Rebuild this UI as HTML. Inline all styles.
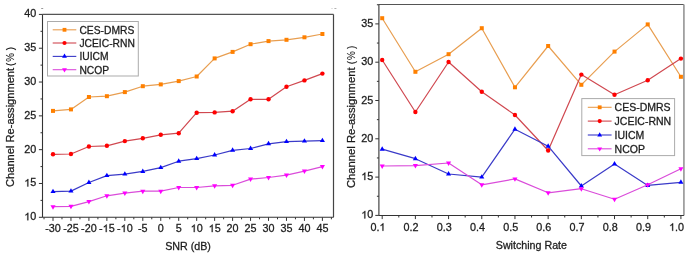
<!DOCTYPE html>
<html><head><meta charset="utf-8"><title>Channel Re-assignment charts</title>
<style>
html,body{margin:0;padding:0;background:#fff;}
body{width:685px;height:259px;overflow:hidden;}
svg{display:block;font-family:"Liberation Sans", sans-serif;will-change:transform;}
text{stroke:#222;stroke-width:0.28px;}
</style></head>
<body>
<svg width="685" height="259" viewBox="0 0 685 259">
<rect width="685" height="259" fill="#fff"/>
<line x1="38.90" y1="217.30" x2="42.50" y2="217.30" stroke="#333333" stroke-width="1"/>
<path transform="translate(24.287 220.300) scale(0.00527 -0.00527)" d="M763 0H583V1110Q518 1050 412.5 990T222 900V1068Q372 1136 484.5 1234T644 1423H763V0Z" fill="#1a1a1a" stroke="#222" stroke-width="0.28" vector-effect="non-scaling-stroke"/>
<text x="30.294" y="220.30" font-size="10.8" fill="#1a1a1a">0</text>
<line x1="38.90" y1="183.49" x2="42.50" y2="183.49" stroke="#333333" stroke-width="1"/>
<path transform="translate(24.287 186.485) scale(0.00527 -0.00527)" d="M763 0H583V1110Q518 1050 412.5 990T222 900V1068Q372 1136 484.5 1234T644 1423H763V0Z" fill="#1a1a1a" stroke="#222" stroke-width="0.28" vector-effect="non-scaling-stroke"/>
<text x="30.294" y="186.49" font-size="10.8" fill="#1a1a1a">5</text>
<line x1="38.90" y1="149.67" x2="42.50" y2="149.67" stroke="#333333" stroke-width="1"/>
<text x="36.30" y="152.67" font-size="10.8" text-anchor="end" fill="#1a1a1a">20</text>
<line x1="38.90" y1="115.86" x2="42.50" y2="115.86" stroke="#333333" stroke-width="1"/>
<text x="36.30" y="118.86" font-size="10.8" text-anchor="end" fill="#1a1a1a">25</text>
<line x1="38.90" y1="82.04" x2="42.50" y2="82.04" stroke="#333333" stroke-width="1"/>
<text x="36.30" y="85.04" font-size="10.8" text-anchor="end" fill="#1a1a1a">30</text>
<line x1="38.90" y1="48.23" x2="42.50" y2="48.23" stroke="#333333" stroke-width="1"/>
<text x="36.30" y="51.23" font-size="10.8" text-anchor="end" fill="#1a1a1a">35</text>
<line x1="38.90" y1="14.41" x2="42.50" y2="14.41" stroke="#333333" stroke-width="1"/>
<text x="36.30" y="17.41" font-size="10.8" text-anchor="end" fill="#1a1a1a">40</text>
<line x1="40.50" y1="200.39" x2="42.50" y2="200.39" stroke="#333333" stroke-width="1"/>
<line x1="40.50" y1="166.58" x2="42.50" y2="166.58" stroke="#333333" stroke-width="1"/>
<line x1="40.50" y1="132.76" x2="42.50" y2="132.76" stroke="#333333" stroke-width="1"/>
<line x1="40.50" y1="98.95" x2="42.50" y2="98.95" stroke="#333333" stroke-width="1"/>
<line x1="40.50" y1="65.13" x2="42.50" y2="65.13" stroke="#333333" stroke-width="1"/>
<line x1="40.50" y1="31.32" x2="42.50" y2="31.32" stroke="#333333" stroke-width="1"/>
<line x1="53.00" y1="217.30" x2="53.00" y2="220.90" stroke="#333333" stroke-width="1"/>
<text x="53.00" y="232.10" font-size="10.8" text-anchor="middle" fill="#1a1a1a">-30</text>
<line x1="70.96" y1="217.30" x2="70.96" y2="220.90" stroke="#333333" stroke-width="1"/>
<text x="70.96" y="232.10" font-size="10.8" text-anchor="middle" fill="#1a1a1a">-25</text>
<line x1="88.92" y1="217.30" x2="88.92" y2="220.90" stroke="#333333" stroke-width="1"/>
<text x="88.92" y="232.10" font-size="10.8" text-anchor="middle" fill="#1a1a1a">-20</text>
<line x1="106.88" y1="217.30" x2="106.88" y2="220.90" stroke="#333333" stroke-width="1"/>
<text x="99.075" y="232.10" font-size="10.8" fill="#1a1a1a">-</text>
<path transform="translate(102.672 232.100) scale(0.00527 -0.00527)" d="M763 0H583V1110Q518 1050 412.5 990T222 900V1068Q372 1136 484.5 1234T644 1423H763V0Z" fill="#1a1a1a" stroke="#222" stroke-width="0.28" vector-effect="non-scaling-stroke"/>
<text x="108.678" y="232.10" font-size="10.8" fill="#1a1a1a">5</text>
<line x1="124.84" y1="217.30" x2="124.84" y2="220.90" stroke="#333333" stroke-width="1"/>
<text x="117.035" y="232.10" font-size="10.8" fill="#1a1a1a">-</text>
<path transform="translate(120.632 232.100) scale(0.00527 -0.00527)" d="M763 0H583V1110Q518 1050 412.5 990T222 900V1068Q372 1136 484.5 1234T644 1423H763V0Z" fill="#1a1a1a" stroke="#222" stroke-width="0.28" vector-effect="non-scaling-stroke"/>
<text x="126.638" y="232.10" font-size="10.8" fill="#1a1a1a">0</text>
<line x1="142.80" y1="217.30" x2="142.80" y2="220.90" stroke="#333333" stroke-width="1"/>
<text x="142.80" y="232.10" font-size="10.8" text-anchor="middle" fill="#1a1a1a">-5</text>
<line x1="160.76" y1="217.30" x2="160.76" y2="220.90" stroke="#333333" stroke-width="1"/>
<text x="160.76" y="232.10" font-size="10.8" text-anchor="middle" fill="#1a1a1a">0</text>
<line x1="178.72" y1="217.30" x2="178.72" y2="220.90" stroke="#333333" stroke-width="1"/>
<text x="178.72" y="232.10" font-size="10.8" text-anchor="middle" fill="#1a1a1a">5</text>
<line x1="196.68" y1="217.30" x2="196.68" y2="220.90" stroke="#333333" stroke-width="1"/>
<path transform="translate(190.674 232.100) scale(0.00527 -0.00527)" d="M763 0H583V1110Q518 1050 412.5 990T222 900V1068Q372 1136 484.5 1234T644 1423H763V0Z" fill="#1a1a1a" stroke="#222" stroke-width="0.28" vector-effect="non-scaling-stroke"/>
<text x="196.680" y="232.10" font-size="10.8" fill="#1a1a1a">0</text>
<line x1="214.64" y1="217.30" x2="214.64" y2="220.90" stroke="#333333" stroke-width="1"/>
<path transform="translate(208.634 232.100) scale(0.00527 -0.00527)" d="M763 0H583V1110Q518 1050 412.5 990T222 900V1068Q372 1136 484.5 1234T644 1423H763V0Z" fill="#1a1a1a" stroke="#222" stroke-width="0.28" vector-effect="non-scaling-stroke"/>
<text x="214.640" y="232.10" font-size="10.8" fill="#1a1a1a">5</text>
<line x1="232.60" y1="217.30" x2="232.60" y2="220.90" stroke="#333333" stroke-width="1"/>
<text x="232.60" y="232.10" font-size="10.8" text-anchor="middle" fill="#1a1a1a">20</text>
<line x1="250.56" y1="217.30" x2="250.56" y2="220.90" stroke="#333333" stroke-width="1"/>
<text x="250.56" y="232.10" font-size="10.8" text-anchor="middle" fill="#1a1a1a">25</text>
<line x1="268.52" y1="217.30" x2="268.52" y2="220.90" stroke="#333333" stroke-width="1"/>
<text x="268.52" y="232.10" font-size="10.8" text-anchor="middle" fill="#1a1a1a">30</text>
<line x1="286.48" y1="217.30" x2="286.48" y2="220.90" stroke="#333333" stroke-width="1"/>
<text x="286.48" y="232.10" font-size="10.8" text-anchor="middle" fill="#1a1a1a">35</text>
<line x1="304.44" y1="217.30" x2="304.44" y2="220.90" stroke="#333333" stroke-width="1"/>
<text x="304.44" y="232.10" font-size="10.8" text-anchor="middle" fill="#1a1a1a">40</text>
<line x1="322.40" y1="217.30" x2="322.40" y2="220.90" stroke="#333333" stroke-width="1"/>
<text x="322.40" y="232.10" font-size="10.8" text-anchor="middle" fill="#1a1a1a">45</text>
<line x1="44.02" y1="217.30" x2="44.02" y2="219.30" stroke="#333333" stroke-width="1"/>
<line x1="61.98" y1="217.30" x2="61.98" y2="219.30" stroke="#333333" stroke-width="1"/>
<line x1="79.94" y1="217.30" x2="79.94" y2="219.30" stroke="#333333" stroke-width="1"/>
<line x1="97.90" y1="217.30" x2="97.90" y2="219.30" stroke="#333333" stroke-width="1"/>
<line x1="115.86" y1="217.30" x2="115.86" y2="219.30" stroke="#333333" stroke-width="1"/>
<line x1="133.82" y1="217.30" x2="133.82" y2="219.30" stroke="#333333" stroke-width="1"/>
<line x1="151.78" y1="217.30" x2="151.78" y2="219.30" stroke="#333333" stroke-width="1"/>
<line x1="169.74" y1="217.30" x2="169.74" y2="219.30" stroke="#333333" stroke-width="1"/>
<line x1="187.70" y1="217.30" x2="187.70" y2="219.30" stroke="#333333" stroke-width="1"/>
<line x1="205.66" y1="217.30" x2="205.66" y2="219.30" stroke="#333333" stroke-width="1"/>
<line x1="223.62" y1="217.30" x2="223.62" y2="219.30" stroke="#333333" stroke-width="1"/>
<line x1="241.58" y1="217.30" x2="241.58" y2="219.30" stroke="#333333" stroke-width="1"/>
<line x1="259.54" y1="217.30" x2="259.54" y2="219.30" stroke="#333333" stroke-width="1"/>
<line x1="277.50" y1="217.30" x2="277.50" y2="219.30" stroke="#333333" stroke-width="1"/>
<line x1="295.46" y1="217.30" x2="295.46" y2="219.30" stroke="#333333" stroke-width="1"/>
<line x1="313.42" y1="217.30" x2="313.42" y2="219.30" stroke="#333333" stroke-width="1"/>
<line x1="331.38" y1="217.30" x2="331.38" y2="219.30" stroke="#333333" stroke-width="1"/>
<line x1="42.50" y1="14.40" x2="333.50" y2="14.40" stroke="#555" stroke-width="1.2"/>
<line x1="333.50" y1="14.40" x2="333.50" y2="217.30" stroke="#444" stroke-width="1.2"/>
<line x1="42.50" y1="14.40" x2="42.50" y2="217.30" stroke="#333333" stroke-width="1.1"/>
<line x1="42.50" y1="217.30" x2="333.50" y2="217.30" stroke="#333333" stroke-width="1.1"/>
<polyline points="53.00,110.90 70.96,109.40 88.92,97.00 106.88,96.20 124.84,92.10 142.80,86.20 160.76,84.40 178.72,81.10 196.68,76.50 214.64,58.40 232.60,51.90 250.56,44.20 268.52,41.10 286.48,39.80 304.44,37.30 322.40,34.00" fill="none" stroke="#e89e50" stroke-width="1.2" stroke-linejoin="round"/>
<rect x="51.00" y="108.90" width="4.00" height="4.00" fill="#ff8000"/>
<rect x="68.96" y="107.40" width="4.00" height="4.00" fill="#ff8000"/>
<rect x="86.92" y="95.00" width="4.00" height="4.00" fill="#ff8000"/>
<rect x="104.88" y="94.20" width="4.00" height="4.00" fill="#ff8000"/>
<rect x="122.84" y="90.10" width="4.00" height="4.00" fill="#ff8000"/>
<rect x="140.80" y="84.20" width="4.00" height="4.00" fill="#ff8000"/>
<rect x="158.76" y="82.40" width="4.00" height="4.00" fill="#ff8000"/>
<rect x="176.72" y="79.10" width="4.00" height="4.00" fill="#ff8000"/>
<rect x="194.68" y="74.50" width="4.00" height="4.00" fill="#ff8000"/>
<rect x="212.64" y="56.40" width="4.00" height="4.00" fill="#ff8000"/>
<rect x="230.60" y="49.90" width="4.00" height="4.00" fill="#ff8000"/>
<rect x="248.56" y="42.20" width="4.00" height="4.00" fill="#ff8000"/>
<rect x="266.52" y="39.10" width="4.00" height="4.00" fill="#ff8000"/>
<rect x="284.48" y="37.80" width="4.00" height="4.00" fill="#ff8000"/>
<rect x="302.44" y="35.30" width="4.00" height="4.00" fill="#ff8000"/>
<rect x="320.40" y="32.00" width="4.00" height="4.00" fill="#ff8000"/>
<polyline points="53.00,154.30 70.96,154.00 88.92,146.50 106.88,145.80 124.84,141.10 142.80,138.30 160.76,134.80 178.72,133.20 196.68,112.70 214.64,112.40 232.60,111.20 250.56,99.30 268.52,99.30 286.48,86.80 304.44,80.40 322.40,73.60" fill="none" stroke="#d04850" stroke-width="1.2" stroke-linejoin="round"/>
<circle cx="53.00" cy="154.30" r="2.20" fill="#ff0000"/>
<circle cx="70.96" cy="154.00" r="2.20" fill="#ff0000"/>
<circle cx="88.92" cy="146.50" r="2.20" fill="#ff0000"/>
<circle cx="106.88" cy="145.80" r="2.20" fill="#ff0000"/>
<circle cx="124.84" cy="141.10" r="2.20" fill="#ff0000"/>
<circle cx="142.80" cy="138.30" r="2.20" fill="#ff0000"/>
<circle cx="160.76" cy="134.80" r="2.20" fill="#ff0000"/>
<circle cx="178.72" cy="133.20" r="2.20" fill="#ff0000"/>
<circle cx="196.68" cy="112.70" r="2.20" fill="#ff0000"/>
<circle cx="214.64" cy="112.40" r="2.20" fill="#ff0000"/>
<circle cx="232.60" cy="111.20" r="2.20" fill="#ff0000"/>
<circle cx="250.56" cy="99.30" r="2.20" fill="#ff0000"/>
<circle cx="268.52" cy="99.30" r="2.20" fill="#ff0000"/>
<circle cx="286.48" cy="86.80" r="2.20" fill="#ff0000"/>
<circle cx="304.44" cy="80.40" r="2.20" fill="#ff0000"/>
<circle cx="322.40" cy="73.60" r="2.20" fill="#ff0000"/>
<polyline points="53.00,191.60 70.96,191.10 88.92,182.50 106.88,175.60 124.84,174.10 142.80,171.40 160.76,167.60 178.72,161.20 196.68,158.60 214.64,155.00 232.60,150.30 250.56,148.50 268.52,143.80 286.48,141.60 304.44,141.10 322.40,140.60" fill="none" stroke="#3a3ac8" stroke-width="1.2" stroke-linejoin="round"/>
<path d="M53.00 188.65L55.55 193.10L50.45 193.10Z" fill="#0000ff"/>
<path d="M70.96 188.15L73.51 192.60L68.41 192.60Z" fill="#0000ff"/>
<path d="M88.92 179.55L91.47 184.00L86.37 184.00Z" fill="#0000ff"/>
<path d="M106.88 172.65L109.43 177.10L104.33 177.10Z" fill="#0000ff"/>
<path d="M124.84 171.15L127.39 175.60L122.29 175.60Z" fill="#0000ff"/>
<path d="M142.80 168.45L145.35 172.90L140.25 172.90Z" fill="#0000ff"/>
<path d="M160.76 164.65L163.31 169.10L158.21 169.10Z" fill="#0000ff"/>
<path d="M178.72 158.25L181.27 162.70L176.17 162.70Z" fill="#0000ff"/>
<path d="M196.68 155.65L199.23 160.10L194.13 160.10Z" fill="#0000ff"/>
<path d="M214.64 152.05L217.19 156.50L212.09 156.50Z" fill="#0000ff"/>
<path d="M232.60 147.35L235.15 151.80L230.05 151.80Z" fill="#0000ff"/>
<path d="M250.56 145.55L253.11 150.00L248.01 150.00Z" fill="#0000ff"/>
<path d="M268.52 140.85L271.07 145.30L265.97 145.30Z" fill="#0000ff"/>
<path d="M286.48 138.65L289.03 143.10L283.93 143.10Z" fill="#0000ff"/>
<path d="M304.44 138.15L306.99 142.60L301.89 142.60Z" fill="#0000ff"/>
<path d="M322.40 137.65L324.95 142.10L319.85 142.10Z" fill="#0000ff"/>
<polyline points="53.00,206.70 70.96,206.30 88.92,201.60 106.88,195.80 124.84,193.10 142.80,191.20 160.76,191.20 178.72,187.50 196.68,187.50 214.64,185.80 232.60,185.30 250.56,179.10 268.52,177.50 286.48,175.10 304.44,171.10 322.40,166.60" fill="none" stroke="#da4cda" stroke-width="1.2" stroke-linejoin="round"/>
<path d="M50.45 205.20L55.55 205.20L53.00 209.65Z" fill="#ff00ff"/>
<path d="M68.41 204.80L73.51 204.80L70.96 209.25Z" fill="#ff00ff"/>
<path d="M86.37 200.10L91.47 200.10L88.92 204.55Z" fill="#ff00ff"/>
<path d="M104.33 194.30L109.43 194.30L106.88 198.75Z" fill="#ff00ff"/>
<path d="M122.29 191.60L127.39 191.60L124.84 196.05Z" fill="#ff00ff"/>
<path d="M140.25 189.70L145.35 189.70L142.80 194.15Z" fill="#ff00ff"/>
<path d="M158.21 189.70L163.31 189.70L160.76 194.15Z" fill="#ff00ff"/>
<path d="M176.17 186.00L181.27 186.00L178.72 190.45Z" fill="#ff00ff"/>
<path d="M194.13 186.00L199.23 186.00L196.68 190.45Z" fill="#ff00ff"/>
<path d="M212.09 184.30L217.19 184.30L214.64 188.75Z" fill="#ff00ff"/>
<path d="M230.05 183.80L235.15 183.80L232.60 188.25Z" fill="#ff00ff"/>
<path d="M248.01 177.60L253.11 177.60L250.56 182.05Z" fill="#ff00ff"/>
<path d="M265.97 176.00L271.07 176.00L268.52 180.45Z" fill="#ff00ff"/>
<path d="M283.93 173.60L289.03 173.60L286.48 178.05Z" fill="#ff00ff"/>
<path d="M301.89 169.60L306.99 169.60L304.44 174.05Z" fill="#ff00ff"/>
<path d="M319.85 165.10L324.95 165.10L322.40 169.55Z" fill="#ff00ff"/>
<rect x="47.50" y="21.50" width="90.80" height="54.50" fill="#fff" stroke="#ababab" stroke-width="1"/>
<line x1="52.70" y1="29.80" x2="76.30" y2="29.80" stroke="#e89e50" stroke-width="1.1"/>
<rect x="62.60" y="27.90" width="3.80" height="3.80" fill="#ff8000"/>
<text x="79.40" y="33.70" font-size="10.3" fill="#1a1a1a">CES-DMRS</text>
<line x1="52.70" y1="43.00" x2="76.30" y2="43.00" stroke="#d04850" stroke-width="1.1"/>
<circle cx="64.50" cy="43.00" r="2.09" fill="#ff0000"/>
<text x="79.40" y="46.90" font-size="10.3" fill="#1a1a1a">JCEIC-RNN</text>
<line x1="52.70" y1="56.40" x2="76.30" y2="56.40" stroke="#3a3ac8" stroke-width="1.1"/>
<path d="M64.50 53.60L66.92 57.82L62.08 57.82Z" fill="#0000ff"/>
<text x="79.40" y="60.30" font-size="10.3" fill="#1a1a1a">IUICM</text>
<line x1="52.70" y1="69.70" x2="76.30" y2="69.70" stroke="#da4cda" stroke-width="1.1"/>
<path d="M62.08 68.28L66.92 68.28L64.50 72.50Z" fill="#ff00ff"/>
<text x="79.40" y="73.60" font-size="10.3" fill="#1a1a1a">NCOP</text>
<text x="188" y="249.5" font-size="10.7" text-anchor="middle" fill="#1a1a1a">SNR (dB)</text>
<g transform="translate(13.90 186.40) rotate(-90)">
<text x="-0.5" y="0" font-size="11.1" fill="#1a1a1a">Channel Re-assignment</text>
<text transform="translate(122.00 0) scale(0.88 1)" x="0" y="0" font-size="11.1" text-anchor="middle" fill="#1a1a1a" style="stroke-width:0.12px">(</text>
<text transform="translate(129.05 0) scale(0.88 1)" x="0" y="0" font-size="11.1" text-anchor="middle" fill="#1a1a1a" style="stroke-width:0.12px">%</text>
<text transform="translate(137.75 0) scale(0.88 1)" x="0" y="0" font-size="11.1" text-anchor="middle" fill="#1a1a1a" style="stroke-width:0.12px">)</text>
</g>
<line x1="375.30" y1="215.40" x2="378.90" y2="215.40" stroke="#333333" stroke-width="1"/>
<path transform="translate(361.287 218.400) scale(0.00527 -0.00527)" d="M763 0H583V1110Q518 1050 412.5 990T222 900V1068Q372 1136 484.5 1234T644 1423H763V0Z" fill="#1a1a1a" stroke="#222" stroke-width="0.28" vector-effect="non-scaling-stroke"/>
<text x="367.294" y="218.40" font-size="10.8" fill="#1a1a1a">0</text>
<line x1="375.30" y1="177.10" x2="378.90" y2="177.10" stroke="#333333" stroke-width="1"/>
<path transform="translate(361.287 180.100) scale(0.00527 -0.00527)" d="M763 0H583V1110Q518 1050 412.5 990T222 900V1068Q372 1136 484.5 1234T644 1423H763V0Z" fill="#1a1a1a" stroke="#222" stroke-width="0.28" vector-effect="non-scaling-stroke"/>
<text x="367.294" y="180.10" font-size="10.8" fill="#1a1a1a">5</text>
<line x1="375.30" y1="138.80" x2="378.90" y2="138.80" stroke="#333333" stroke-width="1"/>
<text x="373.30" y="141.80" font-size="10.8" text-anchor="end" fill="#1a1a1a">20</text>
<line x1="375.30" y1="100.50" x2="378.90" y2="100.50" stroke="#333333" stroke-width="1"/>
<text x="373.30" y="103.50" font-size="10.8" text-anchor="end" fill="#1a1a1a">25</text>
<line x1="375.30" y1="62.20" x2="378.90" y2="62.20" stroke="#333333" stroke-width="1"/>
<text x="373.30" y="65.20" font-size="10.8" text-anchor="end" fill="#1a1a1a">30</text>
<line x1="375.30" y1="23.90" x2="378.90" y2="23.90" stroke="#333333" stroke-width="1"/>
<text x="373.30" y="26.90" font-size="10.8" text-anchor="end" fill="#1a1a1a">35</text>
<line x1="376.90" y1="196.25" x2="378.90" y2="196.25" stroke="#333333" stroke-width="1"/>
<line x1="376.90" y1="157.95" x2="378.90" y2="157.95" stroke="#333333" stroke-width="1"/>
<line x1="376.90" y1="119.65" x2="378.90" y2="119.65" stroke="#333333" stroke-width="1"/>
<line x1="376.90" y1="81.35" x2="378.90" y2="81.35" stroke="#333333" stroke-width="1"/>
<line x1="376.90" y1="43.05" x2="378.90" y2="43.05" stroke="#333333" stroke-width="1"/>
<line x1="376.90" y1="4.75" x2="378.90" y2="4.75" stroke="#333333" stroke-width="1"/>
<line x1="382.20" y1="215.50" x2="382.20" y2="219.10" stroke="#333333" stroke-width="1"/>
<text x="370.393" y="230.80" font-size="10.8" fill="#1a1a1a">0</text>
<text x="376.400" y="230.80" font-size="10.8" fill="#1a1a1a">.</text>
<path transform="translate(379.400 230.800) scale(0.00527 -0.00527)" d="M763 0H583V1110Q518 1050 412.5 990T222 900V1068Q372 1136 484.5 1234T644 1423H763V0Z" fill="#1a1a1a" stroke="#222" stroke-width="0.28" vector-effect="non-scaling-stroke"/>
<line x1="398.80" y1="215.50" x2="398.80" y2="217.50" stroke="#333333" stroke-width="1"/>
<line x1="415.39" y1="215.50" x2="415.39" y2="219.10" stroke="#333333" stroke-width="1"/>
<text x="411.09" y="230.80" font-size="10.8" text-anchor="middle" fill="#1a1a1a">0.2</text>
<line x1="431.98" y1="215.50" x2="431.98" y2="217.50" stroke="#333333" stroke-width="1"/>
<line x1="448.58" y1="215.50" x2="448.58" y2="219.10" stroke="#333333" stroke-width="1"/>
<text x="444.28" y="230.80" font-size="10.8" text-anchor="middle" fill="#1a1a1a">0.3</text>
<line x1="465.17" y1="215.50" x2="465.17" y2="217.50" stroke="#333333" stroke-width="1"/>
<line x1="481.77" y1="215.50" x2="481.77" y2="219.10" stroke="#333333" stroke-width="1"/>
<text x="477.47" y="230.80" font-size="10.8" text-anchor="middle" fill="#1a1a1a">0.4</text>
<line x1="498.36" y1="215.50" x2="498.36" y2="217.50" stroke="#333333" stroke-width="1"/>
<line x1="514.96" y1="215.50" x2="514.96" y2="219.10" stroke="#333333" stroke-width="1"/>
<text x="510.66" y="230.80" font-size="10.8" text-anchor="middle" fill="#1a1a1a">0.5</text>
<line x1="531.55" y1="215.50" x2="531.55" y2="217.50" stroke="#333333" stroke-width="1"/>
<line x1="548.15" y1="215.50" x2="548.15" y2="219.10" stroke="#333333" stroke-width="1"/>
<text x="543.85" y="230.80" font-size="10.8" text-anchor="middle" fill="#1a1a1a">0.6</text>
<line x1="564.75" y1="215.50" x2="564.75" y2="217.50" stroke="#333333" stroke-width="1"/>
<line x1="581.34" y1="215.50" x2="581.34" y2="219.10" stroke="#333333" stroke-width="1"/>
<text x="577.04" y="230.80" font-size="10.8" text-anchor="middle" fill="#1a1a1a">0.7</text>
<line x1="597.93" y1="215.50" x2="597.93" y2="217.50" stroke="#333333" stroke-width="1"/>
<line x1="614.53" y1="215.50" x2="614.53" y2="219.10" stroke="#333333" stroke-width="1"/>
<text x="610.23" y="230.80" font-size="10.8" text-anchor="middle" fill="#1a1a1a">0.8</text>
<line x1="631.12" y1="215.50" x2="631.12" y2="217.50" stroke="#333333" stroke-width="1"/>
<line x1="647.72" y1="215.50" x2="647.72" y2="219.10" stroke="#333333" stroke-width="1"/>
<text x="643.42" y="230.80" font-size="10.8" text-anchor="middle" fill="#1a1a1a">0.9</text>
<line x1="664.32" y1="215.50" x2="664.32" y2="217.50" stroke="#333333" stroke-width="1"/>
<line x1="680.91" y1="215.50" x2="680.91" y2="219.10" stroke="#333333" stroke-width="1"/>
<path transform="translate(669.103 230.800) scale(0.00527 -0.00527)" d="M763 0H583V1110Q518 1050 412.5 990T222 900V1068Q372 1136 484.5 1234T644 1423H763V0Z" fill="#1a1a1a" stroke="#222" stroke-width="0.28" vector-effect="non-scaling-stroke"/>
<text x="675.110" y="230.80" font-size="10.8" fill="#1a1a1a">.</text>
<text x="678.110" y="230.80" font-size="10.8" fill="#1a1a1a">0</text>
<line x1="378.90" y1="4.50" x2="683.90" y2="4.50" stroke="#555" stroke-width="1.2"/>
<line x1="683.90" y1="4.50" x2="683.90" y2="215.50" stroke="#a0a0a0" stroke-width="1.8"/>
<line x1="378.90" y1="4.50" x2="378.90" y2="215.50" stroke="#333333" stroke-width="1.1"/>
<line x1="378.90" y1="215.50" x2="683.90" y2="215.50" stroke="#333333" stroke-width="1.1"/>
<polyline points="382.20,18.20 415.39,71.80 448.58,54.20 481.77,28.20 514.96,87.30 548.15,46.00 581.34,84.80 614.53,51.60 647.72,24.40 680.91,76.80" fill="none" stroke="#e89e50" stroke-width="1.2" stroke-linejoin="round"/>
<rect x="380.20" y="16.20" width="4.00" height="4.00" fill="#ff8000"/>
<rect x="413.39" y="69.80" width="4.00" height="4.00" fill="#ff8000"/>
<rect x="446.58" y="52.20" width="4.00" height="4.00" fill="#ff8000"/>
<rect x="479.77" y="26.20" width="4.00" height="4.00" fill="#ff8000"/>
<rect x="512.96" y="85.30" width="4.00" height="4.00" fill="#ff8000"/>
<rect x="546.15" y="44.00" width="4.00" height="4.00" fill="#ff8000"/>
<rect x="579.34" y="82.80" width="4.00" height="4.00" fill="#ff8000"/>
<rect x="612.53" y="49.60" width="4.00" height="4.00" fill="#ff8000"/>
<rect x="645.72" y="22.40" width="4.00" height="4.00" fill="#ff8000"/>
<rect x="678.91" y="74.80" width="4.00" height="4.00" fill="#ff8000"/>
<polyline points="382.20,60.00 415.39,112.00 448.58,62.00 481.77,91.80 514.96,115.00 548.15,150.50 581.34,74.60 614.53,94.70 647.72,80.30 680.91,58.60" fill="none" stroke="#d04850" stroke-width="1.2" stroke-linejoin="round"/>
<circle cx="382.20" cy="60.00" r="2.20" fill="#ff0000"/>
<circle cx="415.39" cy="112.00" r="2.20" fill="#ff0000"/>
<circle cx="448.58" cy="62.00" r="2.20" fill="#ff0000"/>
<circle cx="481.77" cy="91.80" r="2.20" fill="#ff0000"/>
<circle cx="514.96" cy="115.00" r="2.20" fill="#ff0000"/>
<circle cx="548.15" cy="150.50" r="2.20" fill="#ff0000"/>
<circle cx="581.34" cy="74.60" r="2.20" fill="#ff0000"/>
<circle cx="614.53" cy="94.70" r="2.20" fill="#ff0000"/>
<circle cx="647.72" cy="80.30" r="2.20" fill="#ff0000"/>
<circle cx="680.91" cy="58.60" r="2.20" fill="#ff0000"/>
<polyline points="382.20,149.20 415.39,158.70 448.58,174.00 481.77,177.10 514.96,129.20 548.15,146.20 581.34,186.00 614.53,164.00 647.72,185.40 680.91,182.30" fill="none" stroke="#3a3ac8" stroke-width="1.2" stroke-linejoin="round"/>
<path d="M382.20 146.25L384.75 150.70L379.65 150.70Z" fill="#0000ff"/>
<path d="M415.39 155.75L417.94 160.20L412.84 160.20Z" fill="#0000ff"/>
<path d="M448.58 171.05L451.13 175.50L446.03 175.50Z" fill="#0000ff"/>
<path d="M481.77 174.15L484.32 178.60L479.22 178.60Z" fill="#0000ff"/>
<path d="M514.96 126.25L517.51 130.70L512.41 130.70Z" fill="#0000ff"/>
<path d="M548.15 143.25L550.70 147.70L545.60 147.70Z" fill="#0000ff"/>
<path d="M581.34 183.05L583.89 187.50L578.79 187.50Z" fill="#0000ff"/>
<path d="M614.53 161.05L617.08 165.50L611.98 165.50Z" fill="#0000ff"/>
<path d="M647.72 182.45L650.27 186.90L645.17 186.90Z" fill="#0000ff"/>
<path d="M680.91 179.35L683.46 183.80L678.36 183.80Z" fill="#0000ff"/>
<polyline points="382.20,166.00 415.39,165.60 448.58,163.00 481.77,184.80 514.96,178.90 548.15,192.80 581.34,188.70 614.53,199.20 647.72,184.70 680.91,168.80" fill="none" stroke="#da4cda" stroke-width="1.2" stroke-linejoin="round"/>
<path d="M379.65 164.50L384.75 164.50L382.20 168.95Z" fill="#ff00ff"/>
<path d="M412.84 164.10L417.94 164.10L415.39 168.55Z" fill="#ff00ff"/>
<path d="M446.03 161.50L451.13 161.50L448.58 165.95Z" fill="#ff00ff"/>
<path d="M479.22 183.30L484.32 183.30L481.77 187.75Z" fill="#ff00ff"/>
<path d="M512.41 177.40L517.51 177.40L514.96 181.85Z" fill="#ff00ff"/>
<path d="M545.60 191.30L550.70 191.30L548.15 195.75Z" fill="#ff00ff"/>
<path d="M578.79 187.20L583.89 187.20L581.34 191.65Z" fill="#ff00ff"/>
<path d="M611.98 197.70L617.08 197.70L614.53 202.15Z" fill="#ff00ff"/>
<path d="M645.17 183.20L650.27 183.20L647.72 187.65Z" fill="#ff00ff"/>
<path d="M678.36 167.30L683.46 167.30L680.91 171.75Z" fill="#ff00ff"/>
<rect x="581.80" y="98.60" width="92.80" height="57.00" fill="#fff" stroke="#ababab" stroke-width="1"/>
<line x1="587.80" y1="107.30" x2="611.60" y2="107.30" stroke="#e89e50" stroke-width="1.1"/>
<rect x="597.80" y="105.40" width="3.80" height="3.80" fill="#ff8000"/>
<text x="614.60" y="111.20" font-size="10.5" fill="#1a1a1a">CES-DMRS</text>
<line x1="587.80" y1="121.10" x2="611.60" y2="121.10" stroke="#d04850" stroke-width="1.1"/>
<circle cx="599.70" cy="121.10" r="2.09" fill="#ff0000"/>
<text x="614.60" y="125.00" font-size="10.5" fill="#1a1a1a">JCEIC-RNN</text>
<line x1="587.80" y1="135.00" x2="611.60" y2="135.00" stroke="#3a3ac8" stroke-width="1.1"/>
<path d="M599.70 132.20L602.12 136.43L597.28 136.43Z" fill="#0000ff"/>
<text x="614.60" y="138.90" font-size="10.5" fill="#1a1a1a">IUICM</text>
<line x1="587.80" y1="148.80" x2="611.60" y2="148.80" stroke="#da4cda" stroke-width="1.1"/>
<path d="M597.28 147.38L602.12 147.38L599.70 151.60Z" fill="#ff00ff"/>
<text x="614.60" y="152.70" font-size="10.5" fill="#1a1a1a">NCOP</text>
<text x="531.4" y="249" font-size="10.7" text-anchor="middle" fill="#1a1a1a">Switching Rate</text>
<g transform="translate(355.30 187.60) rotate(-90)">
<text x="-0.5" y="0" font-size="11.26" fill="#1a1a1a">Channel Re-assignment</text>
<text transform="translate(124.90 0) scale(0.88 1)" x="0" y="0" font-size="11.26" text-anchor="middle" fill="#1a1a1a" style="stroke-width:0.12px">(</text>
<text transform="translate(132.00 0) scale(0.88 1)" x="0" y="0" font-size="11.26" text-anchor="middle" fill="#1a1a1a" style="stroke-width:0.12px">%</text>
<text transform="translate(140.15 0) scale(0.88 1)" x="0" y="0" font-size="11.26" text-anchor="middle" fill="#1a1a1a" style="stroke-width:0.12px">)</text>
</g>
<rect x="41.2" y="8" width="2" height="1" fill="#9a9a9a"/>
<rect x="331" y="8" width="2" height="1" fill="#e2e2e2"/>
<rect x="334.4" y="8" width="2" height="1" fill="#b0b0b0"/>
</svg>
</body></html>
